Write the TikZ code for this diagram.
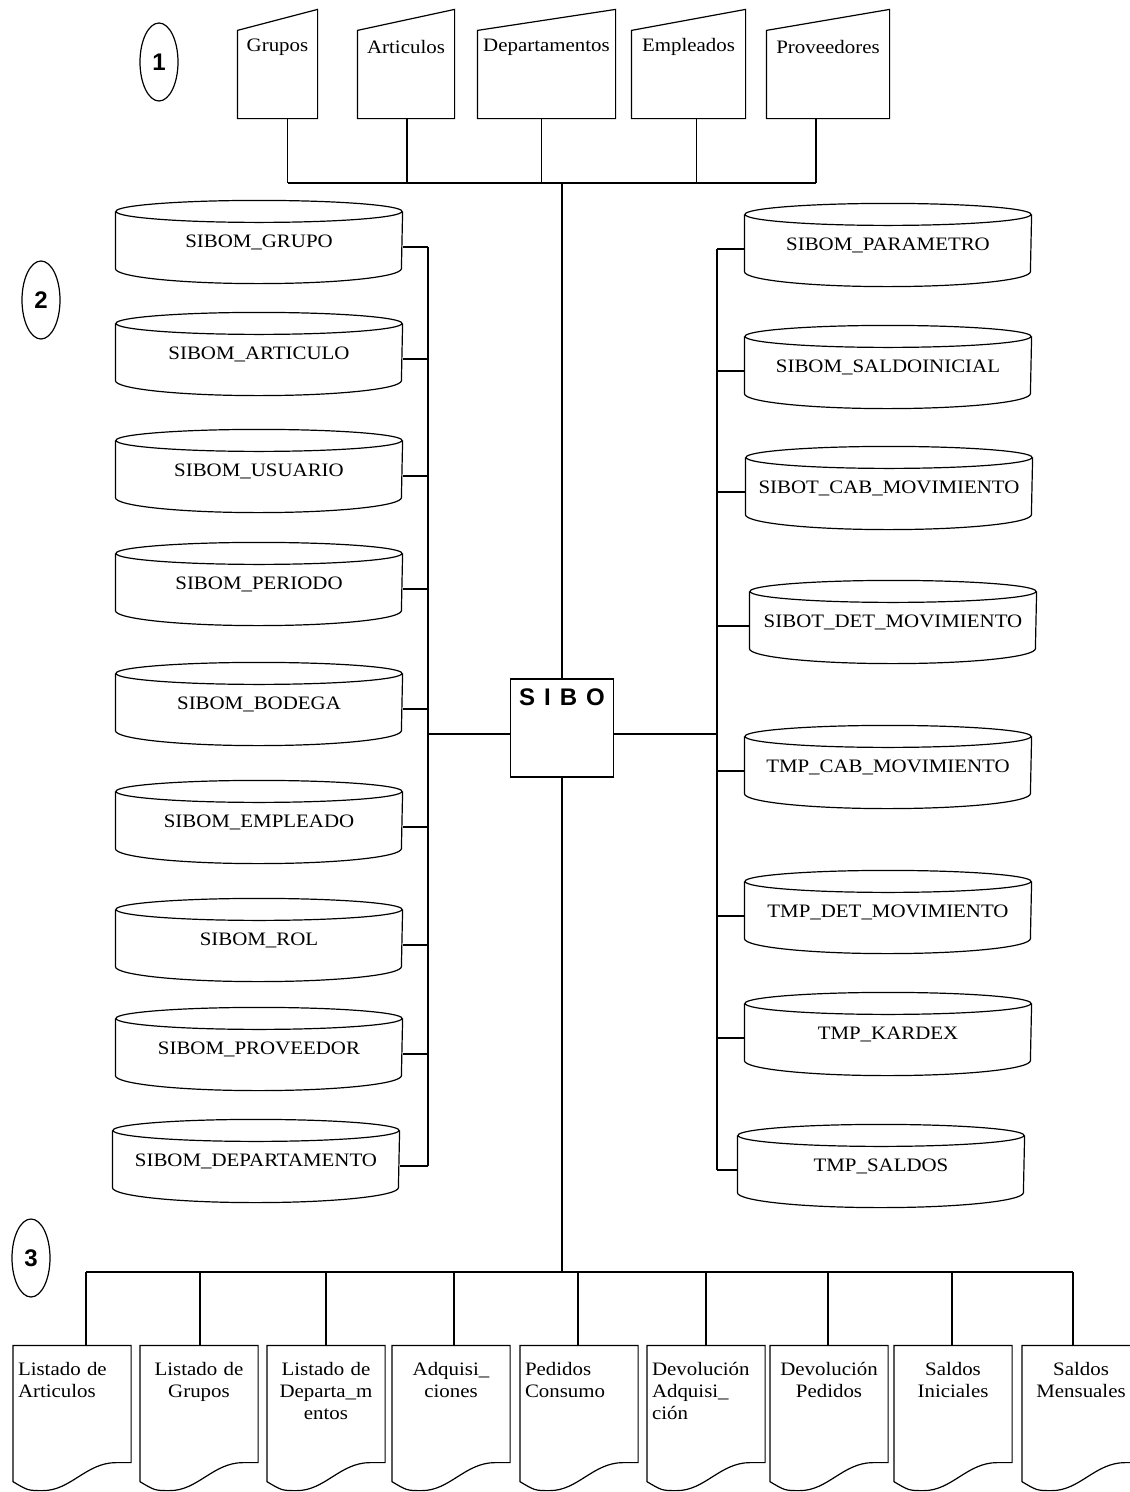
\documentclass[tikz,border=0pt]{standalone}
\usepackage{fontspec}
\setmainfont{Liberation Serif}[FakeStretch=1.1]
\setsansfont{Liberation Sans}
\usetikzlibrary{shapes.geometric, positioning, calc}

% database table drawn as a cylinder
\newcommand{\dbtable}[4]{%
  \node[tbl] (#1) at (#2,#3) {#4};
  \draw ([yshift=-11pt]#1.north) ellipse [x radius=143pt, y radius=11pt];
  \draw ([yshift=-11pt]#1.north west) -- ([yshift=15pt]#1.south west)
    arc [start angle=180, end angle=360, x radius=143pt, y radius=15pt]
    -- ([yshift=-11pt]#1.north east);
}

\begin{document}
\begin{tikzpicture}[x=1pt, y=-1pt, line width=1.2pt,
        tbl/.style={minimum width=286, minimum height=82, inner sep=0,
            font=\fontsize{19}{22}\selectfont},
        inbox/.style={minimum height=108, inner sep=0},
        doc/.style={minimum width=117, minimum height=144, inner sep=0},
        num/.style={ellipse, draw, minimum width=38, minimum height=78, inner sep=0,
            font=\sffamily\bfseries\fontsize{24}{24}\selectfont},
        lbl/.style={inner sep=0, font=\fontsize{19}{22}\selectfont}
    ]
    \useasboundingbox (0,0) rectangle (1130,1492);

    % level markers
    \node[num] (n1) at (159,62) {1};
    \node[num] (n2) at (41,300) {2};
    \node[num] (n3) at (31,1258) {3};

    % central system
    \node[draw, minimum width=103, minimum height=98, inner sep=0] (sibo) at (562,728) {};
    \node[inner sep=0, font=\sffamily\bfseries\fontsize{24}{24}\selectfont] (sibo-t)
        at ([yshift=-19pt]sibo.north) {S\hspace{9pt}I\hspace{9pt}B\hspace{9pt}O};

    % 1: input forms
    \foreach \nm/\xa/\xb/\s/\txt in {grp/238/317/10/Grupos, art/358/454/1/Articulos,
            dpt/478/615/-5/Departamentos, emp/632/745/8/Empleados, prv/767/889/-12/Proveedores}{
        \node[inbox, minimum width=\xb-\xa] (\nm) at ({(\xa+\xb)/2},64) {};
        \draw (\nm.south west) -- ([yshift=-21pt]\nm.north west) -- (\nm.north east)
            -- (\nm.south east) -- cycle;
        \node[lbl] (\nm-t) at ([yshift=-38pt]\nm.north) {\txt};
        \coordinate (\nm-s) at ([xshift=\s pt]\nm.south);
    }
    \coordinate (topbus) at (562,183);
    \foreach \nm in {grp,art,dpt,emp,prv}
        \draw (\nm-s) -- (\nm-s |- topbus);
    \draw (grp-s |- topbus) -- (prv-s |- topbus);
    \draw (topbus) -- (sibo.north);

    % 2: tables
    \foreach \nm/\x/\y/\txt in {grp/259/242/GRUPO, art/259/354/ARTICULO, usr/259/471/USUARIO,
            per/259/584/PERIODO, bod/259/704/BODEGA, emp/259/822/EMPLEADO, rol/259/940/ROL,
            prv/259/1049/PROVEEDOR, dpt/256/1161/DEPARTAMENTO}
        \dbtable{l\nm}{\x}{\y}{SIBOM\_\txt};
    \foreach \nm/\x/\y/\txt in {par/888/245/SIBOM\_PARAMETRO, sal/888/367/SIBOM\_SALDOINICIAL,
            cab/889/488/SIBOT\_CAB\_MOVIMIENTO, det/893/622/SIBOT\_DET\_MOVIMIENTO,
            tcab/888/767/TMP\_CAB\_MOVIMIENTO, tdet/888/912/TMP\_DET\_MOVIMIENTO,
            kar/888/1034/TMP\_KARDEX, sld/881/1166/TMP\_SALDOS}
        \dbtable{r\nm}{\x}{\y}{\txt};

    \coordinate (lbus) at (428,734);
    \coordinate (rbus) at (717,734);
    \foreach \nm in {lgrp,lart,lusr,lper,lbod,lemp,lrol,lprv,ldpt}
        \draw ([yshift=-5pt]\nm.east) -- ([yshift=-5pt]\nm.east -| lbus);
    \foreach \nm in {rpar,rsal,rcab,rdet,rtcab,rtdet,rkar,rsld}
        \draw ([yshift=-4pt]\nm.west) -- ([yshift=-4pt]\nm.west -| rbus);
    \draw ([yshift=-5pt]lgrp.east -| lbus) -- ([yshift=-5pt]ldpt.east -| lbus);
    \draw ([yshift=-4pt]rpar.west -| rbus) -- ([yshift=-4pt]rsld.west -| rbus);
    \draw ([yshift=-6pt]sibo.west) -- ([yshift=-6pt]sibo.west -| lbus);
    \draw ([yshift=-6pt]sibo.east) -- ([yshift=-6pt]sibo.east -| rbus);

    % 3: reports
    \coordinate (botbus) at (562,1272);
    \draw (sibo.south) -- (botbus);
    \foreach \i/\x/\s/\al/\txt in {
            1/72/14/left/{Listado de\\Articulos},
            2/199/1/center/{Listado de\\Grupos},
            3/326/0/center/{Listado de\\Departa\_m\\entos},
            4/451/3/center/{Adquisi\_\\ciones},
            5/579/-1/left/{Pedidos\\Consumo},
            6/706/0/left/{Devolución\\Adquisi\_\\ción},
            7/829/-1/center/{Devolución\\Pedidos},
            8/953/-1/center/{Saldos\\Iniciales},
            9/1081/-8/center/{Saldos\\Mensuales}}{
        \node[doc] (d\i) at (\x,1418) {};
        \draw (d\i.north west) -- (d\i.north east) -- ([yshift=28pt]d\i.south east)
            -- ([xshift=-15pt,yshift=28pt]d\i.south east)
            .. controls ([xshift=-45pt,yshift=28pt]d\i.south east) and ([xshift=58pt]d\i.south west)
            .. ([xshift=30pt]d\i.south west)
            .. controls ([xshift=15pt]d\i.south west) .. ([yshift=9pt]d\i.south west) -- cycle;
        \node[lbl, text width=108, align=\al, anchor=north] (d\i-t) at ([yshift=-16pt]d\i.north) {\txt};
        \coordinate (s\i) at ([xshift=\s pt]d\i.north);
        \draw (s\i) -- (s\i |- botbus);
    }
    \draw (s1 |- botbus) -- (s9 |- botbus);
\end{tikzpicture}
\end{document}
